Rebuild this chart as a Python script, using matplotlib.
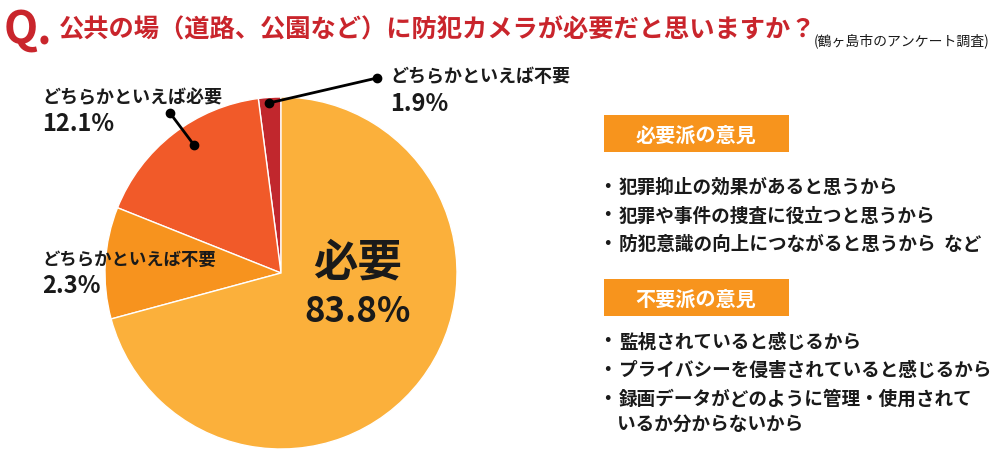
import matplotlib

matplotlib.use("Agg", force=True)
import matplotlib.pyplot as plt
from matplotlib.patches import Rectangle

plt.rcParams["font.family"] = ["Noto Sans CJK JP", "DejaVu Sans"]

# 円グラフ: 描かれている扇形の大きさ とラベルの数値
categories = ["どちらかといえば不要", "どちらかといえば必要", "どちらかといえば不要", "必要"]
shares = [2.06, 16.9, 10.25, 70.8]
pct_labels = ["1.9%", "12.1%", "2.3%", "83.8%"]
colors = ["#c1272d", "#f15a29", "#f7931e", "#fbb03b"]

title = "公共の場（道路、公園など）に防犯カメラが必要だと思いますか？"
source = "(鶴ヶ島市のアンケート調査)"

need_header = "必要派の意見"
need_reasons = [
    "犯罪抑止の効果があると思うから",
    "犯罪や事件の捜査に役立つと思うから",
    "防犯意識の向上につながると思うから  など",
]
noneed_header = "不要派の意見"
noneed_reasons = [
    "監視されていると感じるから",
    "プライバシーを侵害されていると感じるから",
    "録画データがどのように管理・使用されて\nいるか分からないから",
]

TEXT = "#1a1a1a"
RED = "#c9252c"
BOX = "#f7941d"

fig = plt.figure(figsize=(10, 4.5), dpi=100)
ax = fig.add_axes([0, 0, 1, 1])

# y軸を反転してピクセル座標で配置 (上が0)
ax.pie(
    shares,
    colors=colors,
    center=(281, 273),
    radius=176,
    startangle=-90,
    counterclock=False,
    frame=True,
    wedgeprops=dict(edgecolor="white", linewidth=1.0),
)
ax.set_xlim(0, 1000)
ax.set_ylim(450, 0)
ax.set_aspect("auto")
ax.axis("off")

# タイトル
ax.text(4, 44, "Q.", color=RED, fontsize=32, fontweight="bold", va="baseline", ha="left")
ax.text(59, 30, title, color=RED, fontsize=18.2, fontweight="bold", va="center", ha="left")
ax.text(814, 41, source, color=TEXT, fontsize=10, va="center", ha="left")

# 円グラフのラベル
ax.text(358, 262, categories[3], color=TEXT, fontsize=32, fontweight="bold", ha="center", va="center")
ax.text(358, 311, pct_labels[3], color=TEXT, fontsize=25, fontweight="bold", ha="center", va="center")

ax.text(390, 77, categories[0], color=TEXT, fontsize=13, fontweight="bold", ha="left", va="center")
ax.text(390, 104, pct_labels[0], color=TEXT, fontsize=17, fontweight="bold", ha="left", va="center")
ax.plot([269, 377], [103, 78], color="black", lw=2, marker="o", markersize=6, solid_capstyle="round")

ax.text(42, 98, categories[1], color=TEXT, fontsize=13, fontweight="bold", ha="left", va="center")
ax.text(42, 124, pct_labels[1], color=TEXT, fontsize=17, fontweight="bold", ha="left", va="center")
ax.plot([170, 194], [113, 145], color="black", lw=2, marker="o", markersize=6, solid_capstyle="round")

ax.text(42, 260, categories[2], color=TEXT, fontsize=12.5, fontweight="bold", ha="left", va="center")
ax.text(42, 286, pct_labels[2], color=TEXT, fontsize=17, fontweight="bold", ha="left", va="center")


def draw_block(header, reasons, top, first_line):
    ax.add_patch(Rectangle((604, top), 185, 37, facecolor=BOX, edgecolor="none"))
    ax.text(696, top + 18.5, header, color="white", fontsize=14.5, fontweight="bold",
            ha="center", va="center_baseline")
    y = first_line
    for reason in reasons:
        for i, line in enumerate(reason.split("\n")):
            if i == 0:
                ax.text(607, y, "・", color=TEXT, fontsize=13.4, fontweight="bold",
                        ha="center", va="center_baseline")
                y_line = y
            else:
                y_line = y - 4
            ax.text(619 if i == 0 else 617, y_line, line, color=TEXT, fontsize=13.4,
                    fontweight="bold", ha="left", va="center_baseline")
            y += 28.8 if i == 0 else 24


draw_block(need_header, need_reasons, 115, 185)
draw_block(noneed_header, noneed_reasons, 279, 340)

fig.savefig("out.png", dpi=100)
